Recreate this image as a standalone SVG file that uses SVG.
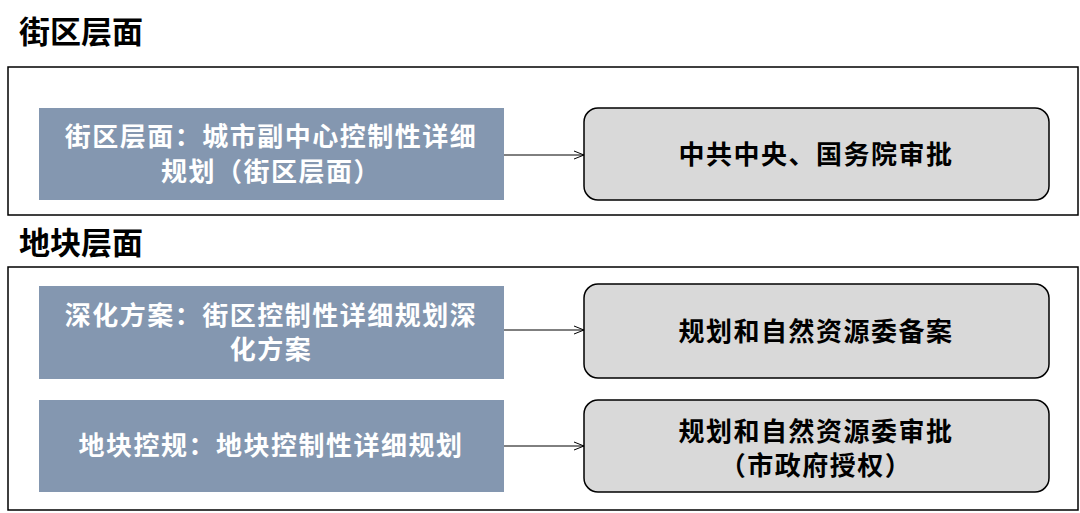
<svg xmlns="http://www.w3.org/2000/svg" width="1080" height="513" viewBox="0 0 1080 513">
<defs>
<marker id="ah" markerWidth="12" markerHeight="10" refX="11" refY="5" orient="auto" markerUnits="userSpaceOnUse">
<path d="M1,1 L11,5 L1,9" fill="none" stroke="#000" stroke-width="1"/>
</marker>
<style>
.frame{fill:#fff;stroke:#000;stroke-width:1.5}
.title{font-family:"Noto Sans CJK SC",sans-serif;font-weight:bold;font-size:31px;fill:#000}
.blue{fill:#8497B0}
.bt{font-family:"Noto Sans CJK SC",sans-serif;font-weight:bold;font-size:26px;fill:#fff;text-anchor:middle;letter-spacing:1.5px}
.gray{fill:#D9D9D9;stroke:#000;stroke-width:1.5}
.gt{font-family:"Noto Sans CJK SC",sans-serif;font-weight:bold;font-size:26px;fill:#000;text-anchor:middle;letter-spacing:1.5px}
.conn{stroke:#000;stroke-width:1;fill:none;marker-end:url(#ah)}
</style>
</defs>
<rect width="1080" height="513" fill="#fff"/>
<text class="title" x="19" y="43">街区层面</text>
<rect class="frame" x="8" y="67" width="1070" height="148"/>
<text class="title" x="19" y="254">地块层面</text>
<rect class="frame" x="8" y="267" width="1070" height="243"/>
<g id="n1"><rect class="blue" x="39" y="108" width="465" height="92"/>
<text class="bt" x="271" y="146">街区层面：城市副中心控制性详细</text>
<text class="bt" x="271" y="181">规划（街区层面）</text></g>
<g id="n2"><rect class="gray" x="584" y="108" width="465" height="92" rx="14"/>
<text class="gt" x="816" y="164">中共中央、国务院审批</text></g>
<g id="n3"><rect class="blue" x="39" y="286" width="465" height="93"/>
<text class="bt" x="271" y="325">深化方案：街区控制性详细规划深</text>
<text class="bt" x="271" y="359">化方案</text></g>
<g id="n4"><rect class="gray" x="584" y="284" width="465" height="94" rx="14"/>
<text class="gt" x="816" y="341">规划和自然资源委备案</text></g>
<g id="n5"><rect class="blue" x="39" y="400" width="465" height="92"/>
<text class="bt" x="271" y="455">地块控规：地块控制性详细规划</text></g>
<g id="n6"><rect class="gray" x="584" y="400" width="465" height="92" rx="14"/>
<text class="gt" x="816" y="441">规划和自然资源委审批</text>
<text class="gt" x="816" y="475">（市政府授权）</text></g>
<g id="connectors">
<line class="conn" x1="504" y1="155" x2="584" y2="155"/>
<line class="conn" x1="504" y1="330" x2="584" y2="330"/>
<line class="conn" x1="504" y1="446" x2="584" y2="446"/>
</g>
</svg>
